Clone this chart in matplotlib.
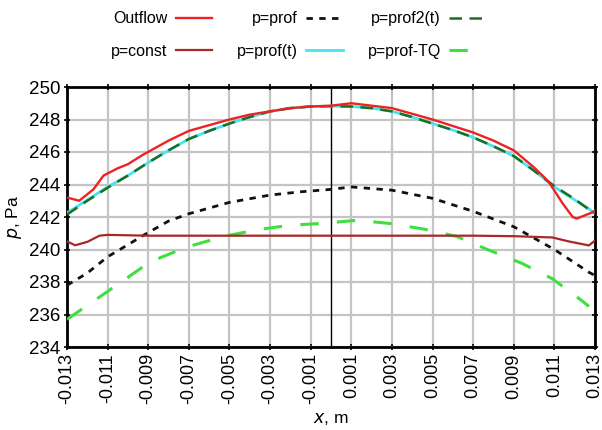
import matplotlib
matplotlib.use("Agg")
import matplotlib.pyplot as plt

plt.rcParams['font.family'] = ['Liberation Sans', 'DejaVu Sans']

# ---- data ----
x_out = [-0.013, -0.0124, -0.0117, -0.0112, -0.0105, -0.0100, -0.0093, -0.008, -0.007, -0.006,
         -0.005, -0.004, -0.003, -0.002, -0.001, 0.0, 0.001, 0.002, 0.003, 0.004, 0.005, 0.006,
         0.007, 0.008, 0.009, 0.010, 0.0107, 0.0114, 0.0119, 0.0121, 0.0125, 0.0129, 0.013]
y_out = [243.2, 243.0, 243.7, 244.55, 245.0, 245.25, 245.8, 246.7, 247.3, 247.65,
         248.0, 248.3, 248.5, 248.7, 248.8, 248.85, 249.0, 248.85, 248.7, 248.35, 248.0, 247.6,
         247.2, 246.7, 246.1, 245.05, 244.2, 242.85, 242.0, 241.9, 242.1, 242.3, 242.4]

x_t = [-0.013, -0.012, -0.011, -0.010, -0.009, -0.008, -0.007, -0.006, -0.005, -0.004, -0.003,
       -0.002, -0.001, 0.0, 0.001, 0.002, 0.003, 0.004, 0.005, 0.006, 0.007, 0.008, 0.009,
       0.010, 0.011, 0.012, 0.013]
y_prof_t = [242.25, 243.05, 243.85, 244.55, 245.35, 246.1, 246.8, 247.3, 247.75, 248.15, 248.5,
            248.7, 248.8, 248.82, 248.8, 248.7, 248.5, 248.15, 247.75, 247.35, 246.9, 246.35, 245.75,
            244.85, 243.85, 243.05, 242.25]
y_prof2_t = [242.15, 243.0, 243.8, 244.55, 245.35, 246.1, 246.8, 247.3, 247.75, 248.15, 248.5,
             248.7, 248.8, 248.82, 248.8, 248.7, 248.5, 248.15, 247.75, 247.35, 246.9, 246.35, 245.75,
             244.85, 243.9, 243.1, 242.2]

x_const = [-0.013, -0.0126, -0.012, -0.0114, -0.011, -0.009, -0.007, -0.005, -0.003, -0.001,
           0.001, 0.003, 0.005, 0.007, 0.009, 0.0109, 0.0117, 0.0123, 0.0127, 0.013]
y_const = [240.5, 240.26, 240.47, 240.85, 240.9, 240.85, 240.85, 240.85, 240.85, 240.85,
           240.85, 240.85, 240.85, 240.85, 240.82, 240.74, 240.5, 240.35, 240.25, 240.55]

x_prof = [-0.013, -0.012, -0.011, -0.0099, -0.0092, -0.008, -0.007, -0.005, -0.003, -0.0015,
          0.0, 0.001, 0.003, 0.005, 0.007, 0.009, 0.011, 0.0127, 0.013]
y_prof = [237.8, 238.55, 239.55, 240.37, 240.9, 241.75, 242.2, 242.9, 243.35, 243.55,
          243.7, 243.85, 243.65, 243.15, 242.35, 241.4, 240.0, 238.6, 238.4]

x_tq = [-0.013, -0.0116, -0.0101, -0.0089, -0.0071, -0.0053, -0.0037, -0.002, -0.0005, 0.0013,
        0.0029, 0.0046, 0.0062, 0.0078, 0.0094, 0.0109, 0.0123, 0.0127]
y_tq = [235.7, 236.9, 238.2, 239.25, 240.15, 240.8, 241.2, 241.5, 241.6, 241.8,
        241.6, 241.25, 240.8, 239.95, 239.15, 238.2, 236.9, 236.5]

xticks = [-0.013, -0.011, -0.009, -0.007, -0.005, -0.003, -0.001,
          0.001, 0.003, 0.005, 0.007, 0.009, 0.011, 0.013]
xtick_labels = ["-0.013", "-0.011", "-0.009", "-0.007", "-0.005", "-0.003", "-0.001",
                "0.001", "0.003", "0.005", "0.007", "0.009", "0.011", "0.013"]
yticks = [234, 236, 238, 240, 242, 244, 246, 248, 250]

# ---- figure ----
fig = plt.figure(figsize=(6.02, 4.30), dpi=100)
ax = fig.add_axes([67/602, 1-347/430, (595-67)/602, (347-87)/430])

c_out = '#ee2222'
c_const = '#a82828'
c_prof = '#111111'
c_t = '#44e4f0'
c_t2 = '#1f6e1f'
c_tq = '#3ee03e'

ax.axvline(0.0, color='black', lw=1.0, zorder=2)
l_tq, = ax.plot(x_tq, y_tq, color=c_tq, lw=2.2, dashes=(6, 6), zorder=3)
l_prof, = ax.plot(x_prof, y_prof, color=c_prof, lw=2.0, dashes=(2.3, 2.3), zorder=3)
l_const, = ax.plot(x_const, y_const, color=c_const, lw=1.6, zorder=3)
l_t, = ax.plot(x_t, y_prof_t, color=c_t, lw=2.0, zorder=3)
l_t2, = ax.plot(x_t, y_prof2_t, color=c_t2, lw=1.8, dashes=(5, 3), zorder=4)
l_out, = ax.plot(x_out, y_out, color=c_out, lw=1.7, zorder=5)

ax.set_xlim(-0.013, 0.013)
ax.set_ylim(234, 250)
ax.set_xticks(xticks)
ax.set_xticklabels(xtick_labels, rotation=90, fontsize=13)
ax.set_yticks(yticks)
ax.set_yticklabels([str(v) for v in yticks], fontsize=13.5)
ax.grid(True, color='#c4c4c4', lw=1.6, zorder=0)
ax.set_axisbelow(True)
for s in ax.spines.values():
    s.set_linewidth(2.0)
ax.tick_params(axis='both', which='both', direction='inout', length=5, width=1.2,
               top=True, right=True, pad=2)

ax.set_xlabel(r"$x$, m", fontsize=12.5, labelpad=5)
ax.set_ylabel(r"$p$, Pa", fontsize=12.5, labelpad=4)

# legend: labels left of handles, 2 rows x 3 columns
handles = [l_out, l_const, l_prof, l_t, l_t2, l_tq]
labels = ["Outflow", "p=const", "p=prof", "p=prof(t)", "p=prof2(t)", "p=prof-TQ"]
fig.legend(handles, labels, ncol=3, markerfirst=False, frameon=False,
           loc='upper left', bbox_to_anchor=(100/602, 1.0), fontsize=11.5,
           handlelength=2.3, handletextpad=0.5, columnspacing=1.55, labelspacing=1.1,
           borderaxespad=0.3)

fig.savefig("out.png", dpi=100)
